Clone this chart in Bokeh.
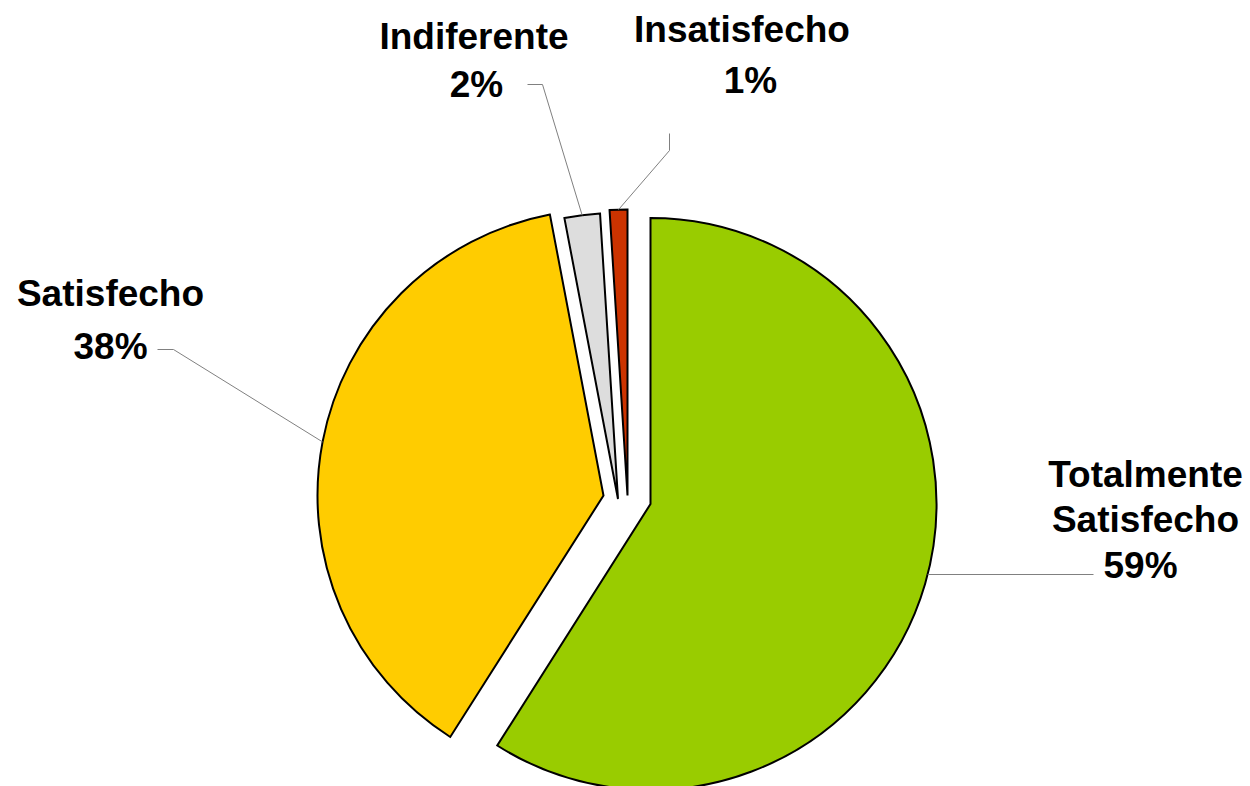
import math
from bokeh.plotting import figure
from bokeh.models import Range1d, ColumnDataSource
from bokeh.core.properties import value
from bokeh.embed import file_html
from bokeh.resources import INLINE

# ---------------- data ----------------
categories = ["Totalmente Satisfecho", "Satisfecho", "Indiferente", "Insatisfecho"]
label_lines = [["Totalmente", "Satisfecho"], ["Satisfecho"], ["Indiferente"], ["Insatisfecho"]]
percent = [59, 38, 2, 1]
colors = ["#99CC00", "#FFCC00", "#DDDDDD", "#CC3300"]

# ---------------- layout (page pixel coords, y downward) ----------------
CX, CY, R = 627.0, 498.5, 286.0
explode = [(23.0, 5.0), (-24.0, -3.5), (-9.5, 0.0), (0.0, -3.5)]
name_pos = [[(1145, 487), (1145, 532)], [(110, 306)], [(473.5, 49)], [(741.5, 41.7)]]
pct_pos = [(1140, 578), (110, 359), (476, 96.5), (750, 93.3)]
leader_pts = [[(1093, 574)], [(157, 349), (173, 349)], [(527, 84), (542, 84)], [(669, 133), (669, 150)]]
TEXT_DY = -13

W, H = 1250, 786
OFF = 0

p = figure(width=W, height=H, output_backend="svg", toolbar_location=None,
           x_range=Range1d(OFF, OFF + W), y_range=Range1d(-(OFF + H), -OFF),
           min_border=0, x_axis_type=None, y_axis_type=None)
p.grid.visible = False
p.outline_line_color = None
p.background_fill_color = "white"
p.border_fill_color = "white"

total = float(sum(percent))
xs, ys, starts, ends = [], [], [], []
apexes, bis = [], []
cum = 0.0
for i, v in enumerate(percent):
    t1 = cum / total * 360.0
    cum += v
    t2 = cum / total * 360.0
    ax = CX + explode[i][0]
    ay = CY + explode[i][1]
    apexes.append((ax, ay))
    bis.append((t1 + t2) / 2.0)
    xs.append(ax)
    ys.append(-ay)
    starts.append(math.radians(90.0 - t2))
    ends.append(math.radians(90.0 - t1))

src = ColumnDataSource(dict(x=xs, y=ys, start=starts, end=ends, color=colors, cat=categories))
p.wedge(x="x", y="y", radius=R, start_angle="start", end_angle="end",
        direction="anticlock", fill_color="color",
        line_color="black", line_width=2, line_join="miter", source=src)

# leader lines
lx, ly = [], []
for i, pts in enumerate(leader_pts):
    ax, ay = apexes[i]
    if len(pts) == 1:
        ey = pts[0][1]
        anchor = (ax + math.sqrt(R * R - (ey - ay) ** 2), ey)
    else:
        th = math.radians(bis[i])
        anchor = (ax + R * math.sin(th), ay - R * math.cos(th))
    chain = list(pts) + [anchor]
    lx.append([c[0] for c in chain])
    ly.append([-c[1] for c in chain])
p.multi_line(xs=lx, ys=ly, line_color="#808080", line_width=1)

# labels
tx, ty, tt = [], [], []
for i, lines in enumerate(label_lines):
    for j, s in enumerate(lines):
        tx.append(name_pos[i][j][0])
        ty.append(-(name_pos[i][j][1] + TEXT_DY))
        tt.append(s)
    tx.append(pct_pos[i][0])
    ty.append(-(pct_pos[i][1] + TEXT_DY))
    tt.append(f"{percent[i]}%")

p.text(x=tx, y=ty, text=tt, text_font=value("Liberation Sans"), text_font_style="bold",
       text_font_size="37px", text_align="center", text_baseline="alphabetic",
       text_color="black")

open("out.html", "w").write(file_html(p, INLINE))
